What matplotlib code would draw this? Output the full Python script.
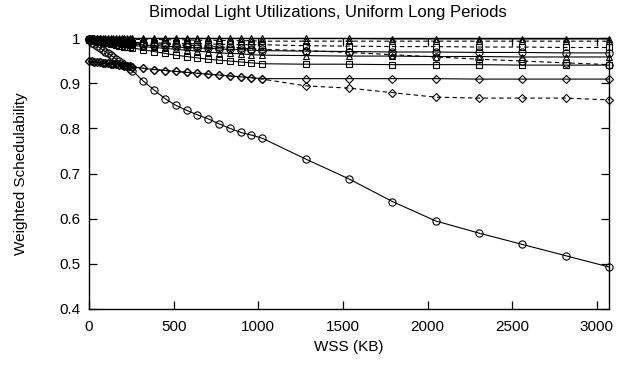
import matplotlib
matplotlib.use("Agg")
import matplotlib.pyplot as plt

plt.rcParams['font.family'] = ['Liberation Sans', 'DejaVu Sans']

wss = [0, 16, 32, 48, 64, 80, 96, 112, 128, 144, 160, 176, 192, 208, 224, 240, 256,
       320, 384, 448, 512, 576, 640, 704, 768, 832, 896, 960, 1024,
       1280, 1536, 1792, 2048, 2304, 2560, 2816, 3072]

big_circle = [0.995, 0.990, 0.986, 0.982, 0.978, 0.974, 0.970, 0.966, 0.962, 0.958, 0.953, 0.949, 0.945, 0.941, 0.937, 0.932, 0.928,
              0.905, 0.885, 0.866, 0.851, 0.840, 0.830, 0.821, 0.810, 0.800, 0.791, 0.785, 0.778,
              0.732, 0.688, 0.638, 0.595, 0.568, 0.543, 0.518, 0.493]

diamond_solid = [0.948, 0.948, 0.947, 0.947, 0.946, 0.945, 0.945, 0.944, 0.943, 0.942, 0.942, 0.941, 0.940, 0.939, 0.938, 0.937, 0.936,
                 0.933, 0.930, 0.928, 0.926, 0.924, 0.922, 0.920, 0.918, 0.916, 0.914, 0.912, 0.910,
                 0.910, 0.910, 0.910, 0.910, 0.909, 0.909, 0.909, 0.909]

diamond_dashed = [0.948, 0.948, 0.947, 0.947, 0.946, 0.945, 0.945, 0.944, 0.943, 0.942, 0.942, 0.941, 0.940, 0.939, 0.938, 0.937, 0.936,
                  0.933, 0.930, 0.928, 0.926, 0.924, 0.922, 0.920, 0.918, 0.916, 0.914, 0.912, 0.909,
                  0.894, 0.889, 0.879, 0.869, 0.867, 0.867, 0.867, 0.863]

tri_solid_top = [1.0, 1.0, 1.0, 1.0, 1.0, 0.999, 0.999, 0.999, 0.999, 0.999, 0.999, 0.999, 0.999, 0.999, 0.999, 0.999, 0.999,
                 0.999, 0.999, 0.999, 0.999, 0.999, 0.999, 0.999, 0.999, 0.999, 0.999, 0.999, 0.999,
                 0.999, 0.999, 0.998, 0.998, 0.998, 0.998, 0.998, 0.998]

tri_dashed_top = [0.999, 0.999, 0.999, 0.999, 0.999, 0.998, 0.998, 0.998, 0.998, 0.998, 0.998, 0.998, 0.997, 0.997, 0.997, 0.997, 0.997,
                  0.997, 0.997, 0.996, 0.996, 0.996, 0.995, 0.995, 0.995, 0.994, 0.994, 0.994, 0.993,
                  0.993, 0.993, 0.993, 0.993, 0.993, 0.993, 0.993, 0.993]

sq_dashed = [0.998, 0.998, 0.997, 0.997, 0.996, 0.996, 0.995, 0.995, 0.994, 0.994, 0.993, 0.993, 0.992, 0.992, 0.991, 0.991, 0.990,
             0.990, 0.989, 0.989, 0.988, 0.988, 0.987, 0.987, 0.986, 0.986, 0.985, 0.985, 0.985,
             0.983, 0.982, 0.981, 0.981, 0.980, 0.980, 0.979, 0.979]

circ_dashed = [0.997, 0.997, 0.996, 0.996, 0.995, 0.995, 0.994, 0.994, 0.993, 0.993, 0.992, 0.992, 0.991, 0.991, 0.990, 0.990, 0.989,
               0.988, 0.987, 0.986, 0.985, 0.984, 0.983, 0.982, 0.980, 0.979, 0.978, 0.976, 0.975,
               0.972, 0.968, 0.963, 0.958, 0.953, 0.949, 0.945, 0.941]

circ_solid = [0.997, 0.996, 0.996, 0.995, 0.995, 0.994, 0.993, 0.993, 0.992, 0.991, 0.991, 0.990, 0.989, 0.989, 0.988, 0.987, 0.987,
              0.985, 0.983, 0.982, 0.980, 0.979, 0.978, 0.977, 0.976, 0.975, 0.974, 0.973, 0.972,
              0.971, 0.970, 0.969, 0.969, 0.968, 0.968, 0.967, 0.967]

tri_solid_low = [0.996, 0.995, 0.995, 0.994, 0.993, 0.993, 0.992, 0.991, 0.990, 0.990, 0.989, 0.988, 0.987, 0.987, 0.986, 0.985, 0.984,
                 0.981, 0.979, 0.977, 0.975, 0.973, 0.971, 0.969, 0.967, 0.966, 0.965, 0.963, 0.962,
                 0.961, 0.960, 0.960, 0.959, 0.959, 0.958, 0.958, 0.958]

sq_solid = [0.995, 0.994, 0.993, 0.992, 0.991, 0.990, 0.989, 0.988, 0.987, 0.986, 0.985, 0.983, 0.982, 0.981, 0.980, 0.979, 0.978,
            0.974, 0.970, 0.966, 0.962, 0.959, 0.956, 0.953, 0.951, 0.949, 0.947, 0.945, 0.943,
            0.942, 0.942, 0.941, 0.941, 0.941, 0.940, 0.940, 0.940]

series = [
    (big_circle, 'o', '-'),
    (diamond_solid, 'D', '-'),
    (diamond_dashed, 'D', '--'),
    (tri_solid_top, '^', '-'),
    (tri_dashed_top, '^', '--'),
    (sq_dashed, 's', '--'),
    (circ_dashed, 'o', '--'),
    (circ_solid, 'o', '-'),
    (tri_solid_low, '^', '-'),
    (sq_solid, 's', '-'),
]

x_ticks = [0, 500, 1000, 1500, 2000, 2500, 3000]
y_ticks = [0.4, 0.5, 0.6, 0.7, 0.8, 0.9, 1.0]
y_tick_labels = ['0.4', '0.5', '0.6', '0.7', '0.8', '0.9', '1']

fig = plt.figure(figsize=(6.27, 3.65), dpi=100)
ax = fig.add_axes([89/627, 1-309/365, (609-89)/627, (309-38)/365])

for vals, mk, ls in series:
    msize = 5.2 if mk == 'o' else 4.8
    if mk == 'D':
        msize = 4.0
    line, = ax.plot(wss, vals, linestyle=ls, color='black', linewidth=0.8,
                    marker=mk, markersize=msize, markerfacecolor='none',
                    markeredgecolor='black', markeredgewidth=0.8, clip_on=False)
    if ls == '--':
        line.set_dashes((4, 3))

ax.set_xlim(0, 3072)
ax.set_ylim(0.4, 1.0)
ax.set_xticks(x_ticks)
ax.set_yticks(y_ticks)
ax.set_yticklabels(y_tick_labels)
ax.tick_params(direction='in', length=6, width=0.9, top=True, right=True,
               labelsize=11)
ax.tick_params(axis='x', pad=8)
ax.tick_params(axis='y', pad=6)
for sp in ax.spines.values():
    sp.set_linewidth(1.0)

fig.text(328/627, 1-12/365, 'Bimodal Light Utilizations, Uniform Long Periods',
         fontsize=12, ha='center', va='center')
ax.set_xlabel('WSS (KB)', fontsize=11, labelpad=4)
ax.set_ylabel('Weighted Schedulability', fontsize=11, labelpad=23)

fig.savefig('out.png', dpi=100)
